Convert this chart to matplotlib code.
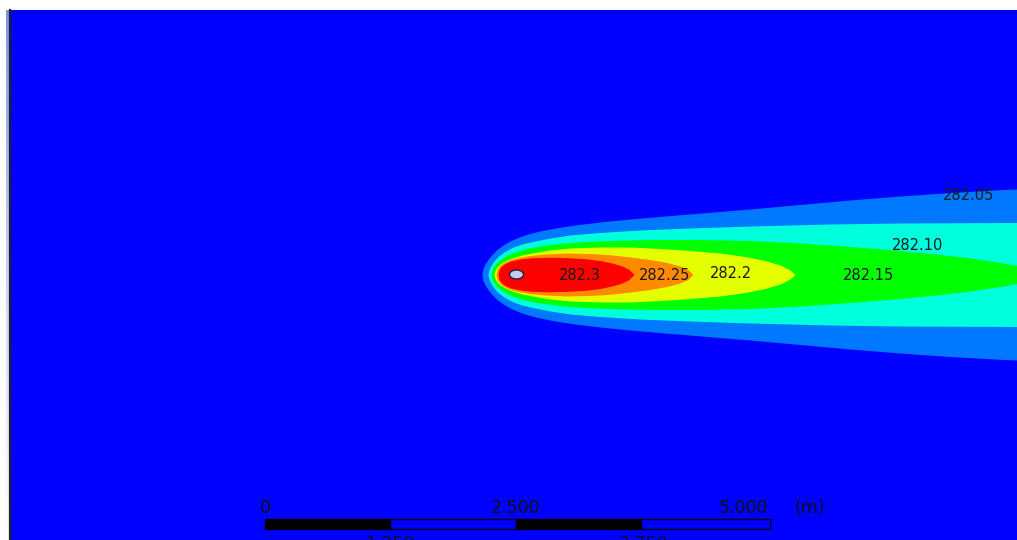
import numpy as np
import matplotlib
matplotlib.use("Agg")
import matplotlib.pyplot as plt
from matplotlib.patches import Rectangle, Ellipse
from matplotlib.colors import LinearSegmentedColormap

# ---------------- data (plot units = image pixels) ----------------
center_y = 274.5

levels = ["282.05", "282.10", "282.15", "282.2", "282.25", "282.3"]
band_colors = ["#0078ff", "#00ffdc", "#00ff00", "#e4ff00", "#ff8a00", "#ff0000"]

# outline of each filled region (x position, half width about the centre line)
x_282_05 = [482, 483, 485, 488, 492, 497, 503, 510, 518, 528, 540, 555, 575, 600, 630, 665, 705, 750, 800, 850, 900, 950, 1000, 1017]
hw_282_05 = [0, 6, 10.5, 15, 20, 25, 29.5, 33.5, 37, 40.5, 43.5, 46.5, 49.5, 52.5, 55.5, 58.5, 61.8, 65.5, 70, 74.5, 78.5, 82, 84.8, 85.5]

x_282_10 = [488, 489, 491, 494, 498, 504, 512, 522, 535, 550, 570, 600, 640, 690, 750, 830, 900, 1017]
hw_282_10 = [0, 5, 9, 13.5, 18, 22.5, 27, 30.5, 33.5, 36.5, 39.5, 42, 44.5, 46.5, 48.5, 50.5, 51.5, 52]

x_282_15 = [491, 492, 494, 497, 502, 508, 516, 527, 540, 560, 585, 620, 660, 700, 750, 800, 850, 900, 940, 970, 1000, 1017, 1040]
hw_282_15 = [0, 5, 8.5, 12, 16, 19.5, 23, 26, 28.5, 31, 33, 34.3, 35, 35, 34, 31.5, 28, 24, 20, 16.5, 12, 9, 0]

x_282_20 = [494, 495, 497, 500, 505, 512, 522, 535, 550, 570, 600, 630, 660, 690, 720, 745, 765, 780, 790, 795]
hw_282_20 = [0, 4, 7.5, 10.5, 13.5, 16.5, 19.5, 22, 24.5, 26.5, 27.5, 27.5, 26, 24, 21.5, 18, 14, 9.5, 4.5, 0]

x_282_25 = [496, 497, 499, 503, 509, 518, 530, 545, 565, 590, 610, 630, 650, 667, 680, 688, 693]
hw_282_25 = [0, 4.5, 8, 11.5, 14.5, 17, 19, 20.5, 21.5, 21, 19.8, 17.5, 15, 12, 8.5, 5, 0]

x_282_30 = [498, 499, 501, 505, 511, 520, 532, 548, 565, 585, 600, 612, 622, 629, 634]
hw_282_30 = [0, 4.5, 8, 11, 13.5, 15.5, 16.8, 17.3, 17, 15.8, 14, 11.5, 8.5, 5, 0]

band_x = [x_282_05, x_282_10, x_282_15, x_282_20, x_282_25, x_282_30]
band_hw = [hw_282_05, hw_282_10, hw_282_15, hw_282_20, hw_282_25, hw_282_30]

# contour labels (text, x, y)
label_texts = ["282.3", "282.25", "282.2", "282.15", "282.10", "282.05"]
label_x = [580, 665, 731, 868, 918, 969]
label_y = [275, 275, 273, 275, 246, 196]

# heated cylinder
cyl_x, cyl_y, cyl_w, cyl_h = 516.5, 274.5, 14, 9

# scale bar
bar_edges = [265, 390, 516, 641, 770]
bar_top_labels = ["0", "2.500", "5.000"]
bar_top_x = [265, 516, 743]
bar_bottom_labels = ["1.250", "3.750"]
bar_bottom_x = [390, 643]

# ---------------- figure ----------------
W, H = 1017, 540
fig = plt.figure(figsize=(W / 100, H / 100), dpi=100)
fig.patch.set_facecolor("white")

# left gradient strip
axg = fig.add_axes([6 / W, 0, 4 / W, (H - 10) / H])
grad = np.linspace(0, 1, 256).reshape(-1, 1)
gcmap = LinearSegmentedColormap.from_list("g", ["#7a98e4", "#c8d6f4", "#ffffff"])
axg.imshow(grad, aspect="auto", cmap=gcmap, extent=[0, 1, 0, 1], origin="upper")
axg.set_axis_off()

ax = fig.add_axes([10 / W, 0, (W - 10) / W, (H - 10) / H])
ax.set_xlim(10, W)
ax.set_ylim(H, 10)
ax.set_facecolor("#0000ff")
for s in ["top", "right", "bottom"]:
    ax.spines[s].set_visible(False)
ax.spines["left"].set_color("#202020")
ax.spines["left"].set_linewidth(1.6)
ax.set_xticks([])
ax.set_yticks([])

for xs, hws, col in zip(band_x, band_hw, band_colors):
    xs = np.asarray(xs, float)
    hws = np.asarray(hws, float)
    ax.fill_between(xs, center_y - hws, center_y + hws, color=col, lw=0, zorder=2)

ax.add_patch(Ellipse((cyl_x, cyl_y), cyl_w, cyl_h, facecolor="#c4cdf0",
                     edgecolor="#202040", lw=1.0, zorder=5))

for t, x, y in zip(label_texts, label_x, label_y):
    ax.text(x, y, t, ha="center", va="center", fontsize=10.5, color="#1a1a1a",
            family="DejaVu Sans", zorder=6)

# scale bar
for i in range(4):
    fc = "black" if i % 2 == 0 else "#0000ff"
    ax.add_patch(Rectangle((bar_edges[i], 519), bar_edges[i + 1] - bar_edges[i], 10,
                           facecolor=fc, edgecolor="black", lw=1.0, zorder=6))
for t, x in zip(bar_top_labels, bar_top_x):
    ax.text(x, 508, t, ha="center", va="center", fontsize=12.5, color="#101010", zorder=6)
ax.text(810, 508, "(m)", ha="center", va="center", fontsize=12.5, color="#101010", zorder=6)
for t, x in zip(bar_bottom_labels, bar_bottom_x):
    ax.text(x, 544, t, ha="center", va="center", fontsize=12.5, color="#101010",
            zorder=6, clip_on=True)

fig.savefig("out.png", dpi=100, facecolor="white")
